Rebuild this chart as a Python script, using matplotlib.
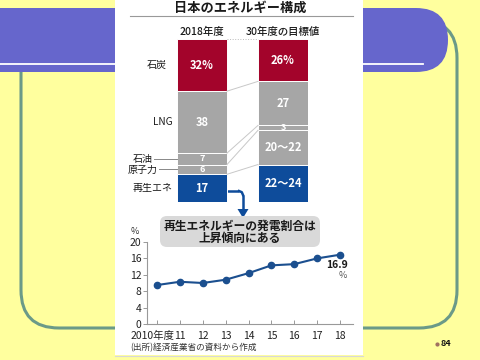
import matplotlib
matplotlib.use('Agg')
import matplotlib.pyplot as plt
from matplotlib.patches import FancyBboxPatch, Rectangle, Polygon
from matplotlib.transforms import ScaledTranslation

plt.rcParams['font.family'] = ['Noto Sans CJK JP', 'DejaVu Sans']

# energy mix (top to bottom of the bars)
sources = ['石炭', 'LNG', '石油', '原子力', '再生エネ']
share_2018 = [32, 38, 7, 6, 17]
share_2030 = [26, 27, 3, 21, 23]          # 20~22 and 22~24 drawn at mid value
labels_2018 = ['32%', '38', '7', '6', '17']
labels_2030 = ['26%', '27', '3', '20～22', '22～24']
bar_names = ['2018年度', '30年度の目標値']
seg_colors = ['#A3042B', '#A6A6A6', '#A6A6A6', '#A6A6A6', '#0E4C9B']

# renewable share of generation
years = [2010, 2011, 2012, 2013, 2014, 2015, 2016, 2017, 2018]
renew = [9.5, 10.3, 10.0, 10.8, 12.4, 14.3, 14.6, 16.0, 16.9]
year_labels = ['2010年度', '11', '12', '13', '14', '15', '16', '17', '18']

W, H = 480, 360
fig = plt.figure(figsize=(4.8, 3.6), dpi=100)
fig.patch.set_facecolor('#FFFF9E')


def fig_rect(x0, y0, x1, y1):
    # pixel box (top-left origin) -> figure fraction
    return [x0 / W, 1 - y1 / H, (x1 - x0) / W, (y1 - y0) / H]


# ---- slide decoration (pixel coordinates) ----
bg = fig.add_axes([0, 0, 1, 1])
bg.set_xlim(0, W)
bg.set_ylim(H, 0)
bg.axis('off')

bg.add_patch(FancyBboxPatch((21, 20), 436, 308, boxstyle='round,pad=0,rounding_size=38',
                            fc='none', ec='#6B9A88', lw=2.2))
bg.add_patch(FancyBboxPatch((-60, 8), 508, 64, boxstyle='round,pad=0,rounding_size=32',
                            fc='#6666CC', ec='none'))
bg.plot([0, 423], [64, 64], color='white', lw=1.3)
bg.add_patch(Rectangle((115, 0), 248, 355, fc='white', ec='none'))
bg.plot([115, 363], [355.5, 355.5], color='#D8D8D8', lw=0.8)
bg.plot([437], [344], marker='o', ms=2, color='#A07060')
bg.text(441, 344, '84', fontsize=6.5, fontweight='bold', va='center', ha='left', color='#111111')

# title
bg.text(240, 8, '日本のエネルギー構成', fontsize=9.5, fontweight='bold', ha='center', va='center',
        color='#1a1a1a')
bg.plot([130, 353], [16, 16], color='#999999', lw=0.8)

# arrow from renewables to callout
bg.plot([227, 239], [191, 191], color='#0E4C9B', lw=1.8, solid_capstyle='butt')
bg.plot([239, 241.8, 243], [191, 192.2, 195], color='#0E4C9B', lw=1.8)
bg.plot([243, 243], [195, 211], color='#0E4C9B', lw=1.8, solid_capstyle='butt')
bg.add_patch(Polygon([[237.5, 209], [248.5, 209], [243, 218]], closed=True, fc='#0E4C9B', ec='none'))

# callout box
bg.add_patch(FancyBboxPatch((160, 216), 160, 31, boxstyle='round,pad=0,rounding_size=7',
                            fc='#D9D9D9', ec='none'))
bg.text(240, 226.5, '再生エネルギーの発電割合は', fontsize=8.5, fontweight='bold',
        ha='center', va='center', color='#1a1a1a')
bg.text(240, 238.5, '上昇傾向にある', fontsize=8.5, fontweight='bold',
        ha='center', va='center', color='#1a1a1a')

bg.text(130, 347.5, '(出所)経済産業省の資料から作成', fontsize=6.2, ha='left', va='center',
        color='#333333')

# ---- stacked bars ----
ax = fig.add_axes(fig_rect(177, 39, 308, 202))
bw = 50 / 81
ax.set_xlim(-bw / 2, 1 + bw / 2)
ax.set_ylim(0, 100)
ax.axis('off')

bounds = []
for xi, shares, labels in [(0, share_2018, labels_2018), (1, share_2030, labels_2030)]:
    top = 100
    edges = []
    for val, col, lab in zip(shares, seg_colors, labels):
        ax.bar(xi, val, bottom=top - val, width=bw, color=col, edgecolor='white', linewidth=0.7)
        fs = 8 if val >= 10 else 6.5
        ax.text(xi, top - val / 2, lab, color='white', fontsize=fs, fontweight='bold',
                ha='center', va='center')
        top -= val
        edges.append(top)
    bounds.append(edges)

xl, xr = bw / 2, 1 - bw / 2
ax.plot([xl, xr], [100, 100], color='#BBBBBB', lw=0.7, ls=':', clip_on=False)
for yl, yr in zip(bounds[0][:-1], bounds[1][:-1]):
    ax.plot([xl, xr], [yl, yr], color='#C8C8C8', lw=0.7)

for xi, name in enumerate(bar_names):
    ax.text(xi, 104.5, name, fontsize=7.5, fontweight='medium', ha='center', va='center',
            color='#1a1a1a')

# side labels
cum = 100
label_dx = [0.13, 0.06, 0.3, 0.24, 0.06]
for name, val, dx in zip(sources, share_2018, label_dx):
    ymid = cum - val / 2
    ax.text(-bw / 2 - dx, ymid, name, fontsize=7.2, ha='right', va='center',
            color='#1a1a1a', clip_on=False)
    if name in ('石油', '原子力'):
        ax.plot([-bw / 2 - dx + 0.02, -bw / 2], [ymid, ymid], color='#888888', lw=0.7,
                clip_on=False)
    cum -= val

# ---- renewable share line chart ----
lx = fig.add_axes(fig_rect(147, 242, 353, 324))
lx.patch.set_alpha(0)
px = 183 / 8
lx.set_xlim(2010 - 10 / px, 2018 + 13 / px)
lx.set_ylim(0, 20)
lx.plot(years, renew, color='#1B4F8F', lw=1.5, marker='o', ms=4.5)
for s in ['top', 'right']:
    lx.spines[s].set_visible(False)
for s in ['left', 'bottom']:
    lx.spines[s].set_color('#999999')
    lx.spines[s].set_linewidth(0.8)
lx.set_yticks([0, 4, 8, 12, 16, 20])
lx.set_xticks(years)
lx.set_xticklabels(year_labels)
lx.tick_params(axis='y', direction='out', length=3, width=0.7, color='#999999',
               labelsize=7.5, labelcolor='#222222', pad=1)
lx.tick_params(axis='x', direction='in', length=3, width=0.7, color='#999999',
               labelsize=7.5, labelcolor='#222222', pad=5)
first = lx.get_xticklabels()[0]
first.set_transform(first.get_transform() + ScaledTranslation(-5 / 100, 0, fig.dpi_scale_trans))

bg.text(135, 232, '%', fontsize=6.5, ha='center', va='center', color='#333333')
bg.text(337, 265, '16.9', fontsize=7.5, fontweight='bold', ha='center', va='center',
        color='#1a1a1a')
bg.text(343, 275, '%', fontsize=6.5, ha='center', va='center', color='#555555')

fig.savefig('out.png', dpi=100)
